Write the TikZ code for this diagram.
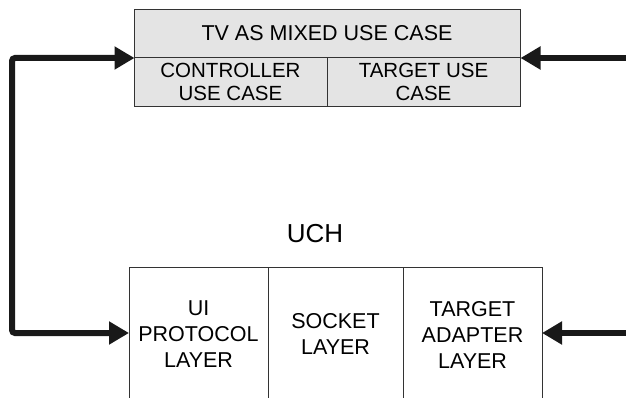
\documentclass[tikz,border=0pt]{standalone}
\usepackage{fontspec}
\setmainfont{Liberation Sans}
\usetikzlibrary{arrows.meta}
\definecolor{boxgray}{HTML}{E4E4E4}
\definecolor{edge}{HTML}{333333}
\tikzset{
  cell/.style={draw=edge, line width=0.9pt, fill=boxgray, inner sep=0pt, align=center,
    font=\fontsize{20.5}{23}\selectfont},
  layer/.style={draw=edge, line width=0.9pt, inner sep=0pt},
  layertext/.style={align=center, inner sep=0pt, font=\fontsize{21.5}{26}\selectfont},
  bigarrow/.style={line width=6pt, draw=black!90,
    -{Triangle[length=20pt,width=22pt]}, rounded corners=3pt},
}
\begin{document}
\begin{tikzpicture}[x=1pt,y=-1pt]
\useasboundingbox (0,0) rectangle (626,398);
% top box
\node[cell, minimum width=386pt, minimum height=48.4pt, font=\fontsize{21.5}{24}\selectfont] (title) at (327,33.5) {TV AS MIXED USE CASE};
\node[cell, minimum width=193pt, minimum height=49pt] (ctrl) at (230.5,82.2) {CONTROLLER\\USE CASE};
\node[cell, minimum width=193pt, minimum height=49pt] (tgt) at (423.5,82.2) {TARGET USE\\CASE};
% UCH
\node[font=\fontsize{26}{30}\selectfont, inner sep=0pt] (uch) at (315,234) {UCH};
% bottom layers (open at bottom)
\node[layer, minimum width=139pt, minimum height=140pt] (ui) at (198.5,337) {};
\node[layer, minimum width=135pt, minimum height=140pt] (sock) at (335.5,337) {};
\node[layer, minimum width=139pt, minimum height=140pt] (adapt) at (472.5,337) {};
\node[layertext] (uit) at (198.5,334.5) {UI\\PROTOCOL\\LAYER};
\node[layertext] (sockt) at (335.5,333.5) {SOCKET\\LAYER};
\node[layertext] (adaptt) at (472.5,334.5) {TARGET\\ADAPTER\\LAYER};
% connectors
\coordinate (topL) at (134.5,58);
\coordinate (topR) at (520.5,58);
\coordinate (botL) at (129,333);
\coordinate (botR) at (542,333);
\coordinate (edgeR1) at (630,58);
\coordinate (edgeR2) at (630,333);
\draw[bigarrow, {Triangle[length=20pt,width=22pt]}-{Triangle[length=20pt,width=22pt]}] (topL) -- (12,58) -- (12,333) -- (botL);
\draw[bigarrow] (edgeR1) -- (topR);
\draw[bigarrow] (edgeR2) -- (botR);
\end{tikzpicture}
\end{document}
